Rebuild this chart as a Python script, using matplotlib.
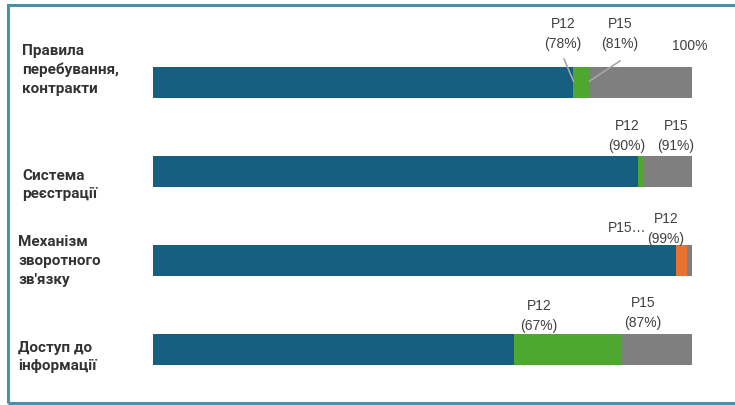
import matplotlib.pyplot as plt
from matplotlib.patches import Rectangle

# ---------------- data ----------------
categories = [
    "Правила\nперебування,\nконтракти",
    "Система\nреєстрації",
    "Механізм\nзворотного\nзв'язку",
    "Доступ до\nінформації",
]
base = [78, 90, 97, 67]          # dark blue segment (min of P12/P15)
change = [3, 1, 2, 20]           # green = growth, orange = decline
change_up = [True, True, False, True]
total = [100, 100, 100, 100]

p12 = [78, 90, 99, 67]
p15 = [81, 91, 97, 87]

BLUE = "#175f80"
GREEN = "#4ea72e"
ORANGE = "#e97132"
GREY = "#7f7f7f"
FRAME = "#4a90a8"
TXT = "#404040"

W, H = 735, 405
fig = plt.figure(figsize=(W / 100, H / 100), dpi=100)

# frame round the whole picture
fig.patches.append(Rectangle((8 / W, 2 / H), 1.0, 1 - 7 / H, transform=fig.transFigure,
                             fill=False, edgecolor=FRAME, linewidth=2.2))

ax = fig.add_axes([153 / W, 0, (692 - 153) / W, 1])
ax.set_xlim(0, 100)
ax.set_ylim((405 - 82.5) / 89, -82.5 / 89)
ax.axis("off")

ys = range(len(categories))
rest = [t - b - c for t, b, c in zip(total, base, change)]
lefts2 = [b + c for b, c in zip(base, change)]
ax.barh(ys, base, height=0.35, color=BLUE)
ax.barh(ys, change, left=base, height=0.35,
        color=[GREEN if u else ORANGE for u in change_up])
ax.barh(ys, rest, left=lefts2, height=0.35, color=GREY)

# category labels (figure pixel positions)
label_x = [22, 22, 18, 18]
label_y = [70, 185, 261, 357]
for cat, x, y in zip(categories, label_x, label_y):
    fig.text(x / W, 1 - y / H, cat, fontsize=11, fontweight="bold", family="Roboto",
             color="#333333", va="center", ha="left", linespacing=1.45)

# value labels
def px(x, y):
    return ((x - 153) / 5.39, (y - 82.5) / 89)

def lab(text, x, y):
    xx, yy = px(x, y)
    ax.text(xx, yy, text, ha="center", va="center", fontsize=10,
            family="Liberation Sans", color=TXT, linespacing=1.55)

lab(f"P12\n({p12[0]}%)", 563, 34)
lab(f"P15\n({p15[0]}%)", 620, 34)
lab("100%", 690, 46)
ax.plot(*zip(px(564, 59), (p12[0], (81 - 82.5) / 89)), color="#a6a6a6", lw=1.2)
ax.plot(*zip(px(620, 61), (p15[0], (81 - 82.5) / 89)), color="#a6a6a6", lw=1.2)

lab(f"P12\n({p12[1]}%)", 627, 136)
lab(f"P15\n({p15[1]}%)", 676, 136)

lab("P15…", 627, 228)
lab(f"P12\n({p12[2]}%)", 666, 229)

lab(f"P12\n({p12[3]}%)", 539, 316)
lab(f"P15\n({p15[3]}%)", 643, 313)

fig.savefig("out.png", dpi=100)
